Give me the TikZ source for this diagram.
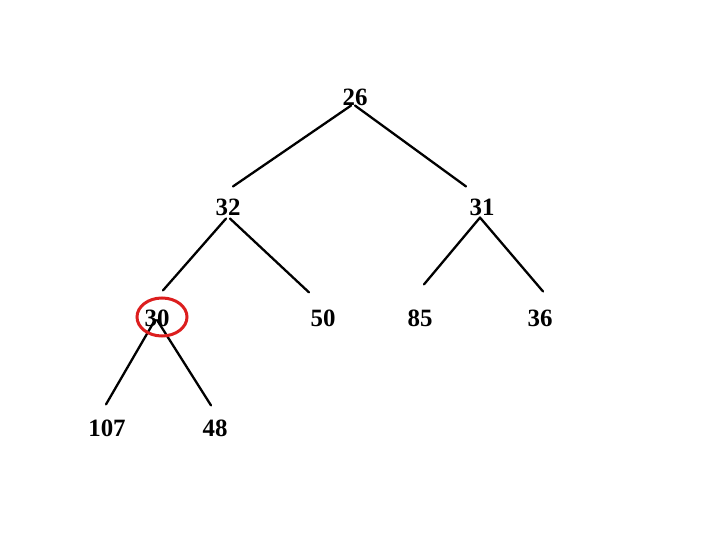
\documentclass[tikz,border=0pt]{standalone}
\usepackage{fontspec}
\setmainfont{Liberation Serif}
\definecolor{r220g30b30}{RGB}{220,30,30}
\tikzset{
  key/.style={inner sep=0pt, font=\fontsize{25}{29}\selectfont\bfseries},
  edge/.style={line width=2.3bp, line cap=round},
}
\begin{document}
\begin{tikzpicture}[x=1bp,y=-1bp]
                    \useasboundingbox (0,0) rectangle (720,540);

                    % Placing keys of the heap
                    \node[key] (n26) at (355,97) {26};
                    \node[key] (n32) at (228,207) {32};
                    \node[key] (n31) at (482,207) {31};
                    \node[key] (n30) at (157,318) {30};
                    \node[key] (n50) at (323,318) {50};
                    \node[key] (n85) at (420,318) {85};
                    \node[key] (n36) at (540,318) {36};
                    \node[key] (n107) at (107,428) {107};
                    \node[key] (n48) at (215,428) {48};

                    % Drawing line 26 32
                    \draw[edge] ([xshift=-4]n26.south) -- ([shift={(5,-12)}]n32.north);%
                    % Drawing line 26 31
                    \draw[edge] (n26.south) -- ([shift={(-16,-12)}]n31.north);%

                    % Drawing line 32 30
                    \draw[edge] ([shift={(-2,3)}]n32.south) -- ([shift={(6,-19)}]n30.north);%
                    % Drawing line 32 50
                    \draw[edge] ([shift={(2,3)}]n32.south) -- ([shift={(-14,-17)}]n50.north);%

                    % Drawing line 31 85
                    \draw[edge] ([shift={(-2,2)}]n31.south) -- ([shift={(4,-25)}]n85.north);%
                    % Drawing line 31 36
                    \draw[edge] ([shift={(-2,2)}]n31.south) -- ([shift={(3,-18)}]n36.north);%

                    % Drawing line 30 107
                    \draw[edge] ([shift={(-2,2)}]n30.center) -- ([shift={(-1,-15)}]n107.north);%
                    % Drawing line 30 48
                    \draw[edge] ([shift={(0,2)}]n30.center) -- ([shift={(-4,-14)}]n48.north);%

                    % Marking key 30 by ellipse
                    \draw[r220g30b30, line width=3bp] ([shift={(5,-1)}]n30.center) ellipse (25 and 19);%
\end{tikzpicture}
\end{document}
